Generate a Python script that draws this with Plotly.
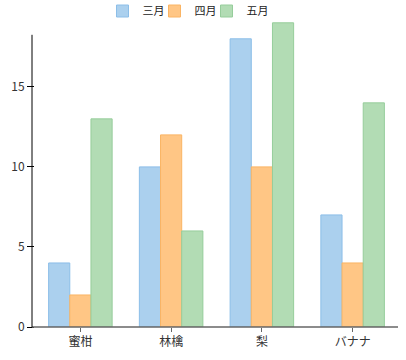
import plotly.graph_objects as go

categories = ["蜜柑", "林檎", "梨", "バナナ"]
series_names = ["三月", "四月", "五月"]
march = [4, 10, 18, 7]
april = [2, 12, 10, 4]
may = [13, 6, 19, 14]
y_ticks = [0, 5, 10, 15]
axis_top = 18.25

fills = ["rgba(171,208,238,1)", "rgba(255,198,133,1)", "rgba(178,220,180,1)"]
borders = ["rgba(140,190,232,1)", "rgba(250,180,100,1)", "rgba(150,205,155,1)"]

font = "Noto Sans CJK JP, Noto Sans, sans-serif"

L, R, T, B = 35, 8, 18, 33
W, H = 406, 360
pw = W - L - R
ph = H - T - B
off = -3 / pw

legend_ids = ["legend", "legend2", "legend3"]
legend_left_px = [102.5, 154.5, 206.5]

fig = go.Figure()
for name, vals, f, b, lg in zip(series_names, [march, april, may], fills, borders, legend_ids):
    fig.add_trace(go.Bar(x=categories, y=vals, name=name, legend=lg,
                         marker=dict(color=f, line=dict(color=b, width=1))))

leg_common = dict(orientation="h", xanchor="left", y=1 + 7 / ph, yanchor="middle",
                  font=dict(size=11, color="#222"), itemwidth=30,
                  bgcolor="rgba(0,0,0,0)")
legends = {lg: dict(leg_common, x=(px - L) / pw) for lg, px in zip(legend_ids, legend_left_px)}

fig.update_layout(
    width=W, height=H,
    margin=dict(l=L, r=R, t=T, b=B, autoexpand=False),
    paper_bgcolor="white", plot_bgcolor="white",
    barmode="group", bargap=0.3, bargroupgap=0,
    font=dict(family=font, size=12, color="#333"),
    showlegend=True,
    **legends,
)
fig.update_xaxes(showline=False,
                 ticks="outside", ticklen=4, tickcolor="#666",
                 showgrid=False, zeroline=False, automargin=False)
fig.update_yaxes(range=[0, 19.3], tickvals=y_ticks, showline=False,
                 ticks="outside", ticklen=7, tickcolor="#000",
                 showgrid=False, zeroline=False, automargin=False)
fig.add_shape(type="line", xref="paper", yref="paper", x0=off, x1=1, y0=0, y1=0,
              line=dict(color="#666", width=1.5))
fig.add_shape(type="line", xref="paper", yref="y", x0=off, x1=off, y0=0, y1=axis_top,
              line=dict(color="#000", width=1))
fig.write_html("out.html", config={"displayModeBar": False},
               post_script="document.body.style.margin='0';document.body.style.padding='0';")
